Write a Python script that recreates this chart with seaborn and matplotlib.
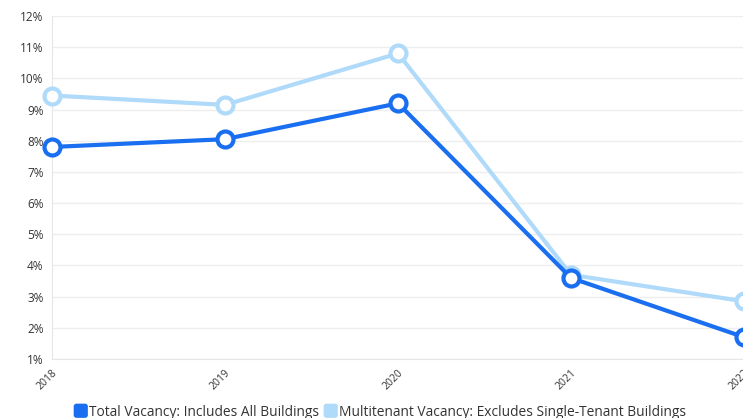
import matplotlib
matplotlib.use("Agg")
import matplotlib.pyplot as plt
import seaborn as sns
import pandas as pd
from matplotlib.patches import FancyBboxPatch
from matplotlib.legend_handler import HandlerPatch

years = [2018, 2019, 2020, 2021, 2022]
total_vacancy = [7.8, 8.05, 9.2, 3.6, 1.7]
multitenant_vacancy = [9.45, 9.15, 10.8, 3.7, 2.85]
series_names = ["Total Vacancy: Includes All Buildings",
                "Multitenant Vacancy: Excludes Single-Tenant Buildings"]
y_ticks = list(range(1, 13))

dark_blue = "#1a6ef0"
light_blue = "#b0daf9"

df = pd.DataFrame({
    "year": years * 2,
    "vacancy": total_vacancy + multitenant_vacancy,
    "series": [series_names[0]] * len(years) + [series_names[1]] * len(years),
})

sns.set_style("white")
plt.rcParams["font.family"] = ["Open Sans", "DejaVu Sans"]

fig = plt.figure(figsize=(7.43, 4.18), dpi=100)
ax = fig.add_axes([52 / 743, 1 - 359 / 418, 692 / 743, 343 / 418])

palette = {series_names[0]: dark_blue, series_names[1]: light_blue}
# light series first so the dark line sits on top
for name in [series_names[1], series_names[0]]:
    sub = df[df["series"] == name]
    sns.lineplot(data=sub, x="year", y="vacancy", ax=ax, color=palette[name],
                 linewidth=3, marker="o", markersize=11.5, markerfacecolor="white",
                 markeredgecolor=palette[name], markeredgewidth=3, clip_on=False,
                 legend=False, zorder=3)

ax.set_xlim(2018, 2022)
ax.set_ylim(1, 12)
ax.set_yticks(y_ticks)
ax.set_yticklabels([f"{t}%" for t in y_ticks], fontsize=8.5, color="#333333")
ax.set_xticks(years)
ax.set_xticklabels([str(y) for y in years], fontsize=7.5, color="#333333",
                   rotation=45, ha="right", rotation_mode="anchor")
ax.tick_params(axis="x", length=4, color="#dddddd", pad=2)
ax.tick_params(axis="y", length=0, pad=6)
ax.grid(axis="y", color="#eeeeee", linewidth=1)
ax.set_xlabel("")
ax.set_ylabel("")
for side in ["top", "right"]:
    ax.spines[side].set_visible(False)
ax.spines["left"].set_color("#e6e6e6")
ax.spines["bottom"].set_color("#e6e6e6")


class RoundedHandler(HandlerPatch):
    def create_artists(self, legend, orig_handle, xdescent, ydescent,
                       width, height, fontsize, trans):
        p = FancyBboxPatch((-xdescent + 1, -ydescent - 1), height + 2, height + 2,
                           boxstyle="round,pad=0,rounding_size=2",
                           facecolor=orig_handle.get_facecolor(),
                           edgecolor="none", transform=trans)
        return [p]


handles = [plt.Rectangle((0, 0), 1, 1, facecolor=dark_blue),
           plt.Rectangle((0, 0), 1, 1, facecolor=light_blue)]
fig.legend(handles, series_names, loc="center",
           bbox_to_anchor=(0.5 + 7.5 / 743, 1 - 412 / 418),
           ncol=2, frameon=False, fontsize=9.9, handlelength=0.9, handleheight=0.9,
           handletextpad=0.3, columnspacing=0.25,
           handler_map={plt.Rectangle: RoundedHandler()},
           labelcolor="#333333")

fig.savefig("out.png", dpi=100)
